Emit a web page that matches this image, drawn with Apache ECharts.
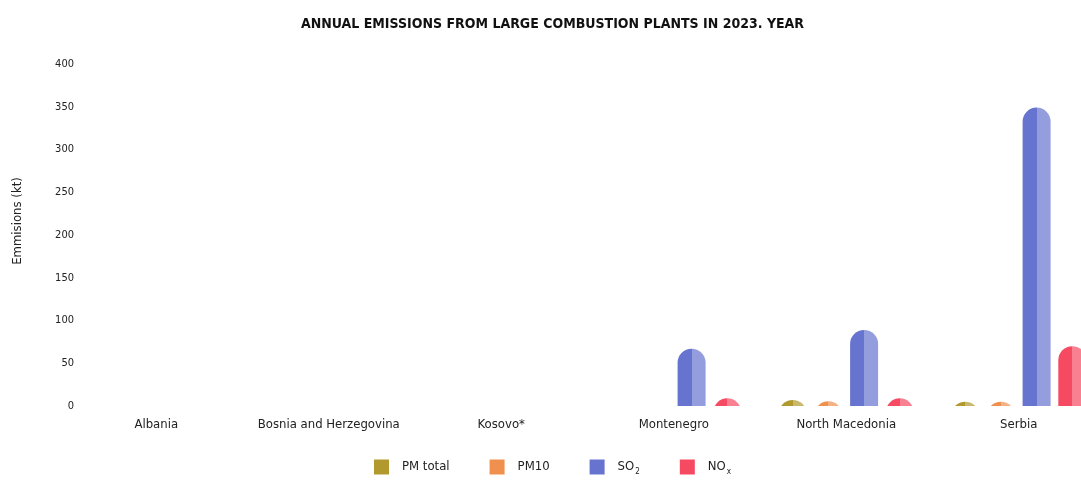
<!DOCTYPE html>
<html>
<head>
<meta charset="utf-8">
<script src="https://cdn.jsdelivr.net/npm/echarts@6/dist/echarts.min.js"></script>
<style>
  html, body { margin: 0; padding: 0; background: #fff; overflow: hidden; }
  /* the original plot runs past the right edge of the window, so the chart is a bit wider */
  #chart { width: 1105px; height: 483px; }
</style>
</head>
<body>
<div id="chart"></div>
<script>
// values (kt)
const categories = ['Albania', 'Bosnia and Herzegovina', 'Kosovo*', 'Montenegro', 'North Macedonia', 'Serbia']
const pmTotal = [null, null, null, 0, 7, 5]
const pm10 = [null, null, null, 0, 5.5, 5]
const so2 = [null, null, null, 67, 89, 349]
const nox = [null, null, null, 9, 9, 70]
const yTicks = { min: 0, max: 400, interval: 50 }

const FONT = "'Liberation Sans Narrow', 'DejaVu Sans Condensed', 'Roboto', sans-serif"

const seriesDefs = [
  { name: 'PM total', data: pmTotal, color: '#b1992e', light: 'rgba(177,153,46,0.7)' },
  { name: 'PM10', data: pm10, color: '#f0904e', light: 'rgba(240,144,78,0.7)' },
  { name: 'SO2', data: so2, color: '#6674cf', light: 'rgba(102,116,207,0.7)' },
  { name: 'NOx', data: nox, color: '#f64a62', light: 'rgba(246,74,98,0.7)' }
]

const BAR_W = 28
const BAR_GAP = 7.7

function makeRender(idx, def) {
  return function (params, api) {
    const v = api.value(1)
    if (v == null || isNaN(v) || v <= 0) {
      return
    }
    const cat = api.value(0)
    const n = seriesDefs.length
    const groupW = n * BAR_W + (n - 1) * BAR_GAP
    const base = api.coord([cat, 0])
    const top = api.coord([cat, v])
    const r = BAR_W / 2
    // capsule top, bottom part runs under the axis and gets clipped
    return {
      type: 'rect',
      shape: {
        x: base[0] - groupW / 2 + idx * (BAR_W + BAR_GAP),
        y: top[1],
        width: BAR_W,
        height: base[1] - top[1] + r,
        r: [r, r, 0, 0]
      },
      style: {
        fill: new echarts.graphic.LinearGradient(0, 0, 1, 0, [
          { offset: 0, color: def.color },
          { offset: 0.5, color: def.color },
          { offset: 0.5, color: def.light },
          { offset: 1, color: def.light }
        ])
      }
    }
  }
}

const chart = echarts.init(document.getElementById('chart'))

chart.setOption({
  backgroundColor: '#ffffff',
  textStyle: { fontFamily: FONT },
  title: {
    text: 'ANNUAL EMISSIONS FROM LARGE COMBUSTION PLANTS IN 2023. YEAR',
    left: 'center',
    top: 12,
    textStyle: {
      fontFamily: FONT,
      fontWeight: 'bold',
      fontSize: 14,
      color: '#111'
    }
  },
  legend: {
    bottom: 2,
    left: 'center',
    icon: 'rect',
    itemWidth: 15,
    itemHeight: 15,
    itemGap: 40,
    data: seriesDefs.map(d => d.name),
    formatter: function (name) {
      if (name === 'SO2') return '{t|SO}{s|2}'
      if (name === 'NOx') return '{t|NO}{s|x}'
      return '{t|' + name + '}'
    },
    textStyle: {
      fontFamily: FONT,
      fontSize: 13,
      color: '#222',
      padding: [0, 0, 0, 8],
      rich: {
        t: { fontFamily: FONT, fontSize: 13, color: '#222' },
        s: { fontFamily: FONT, fontSize: 8, color: '#222', padding: [10, 0, 0, 1] }
      }
    }
  },
  grid: {
    left: 70,
    right: 0,
    top: 64,
    bottom: 77,
    containLabel: false
  },
  xAxis: {
    type: 'category',
    data: categories,
    axisLine: { show: false },
    axisTick: { show: false },
    axisLabel: {
      interval: 0,
      margin: 12,
      fontFamily: FONT,
      fontSize: 13,
      color: '#222'
    }
  },
  yAxis: {
    type: 'value',
    min: yTicks.min,
    max: yTicks.max,
    interval: yTicks.interval,
    name: 'Emmisions (kt)',
    nameLocation: 'middle',
    nameGap: 46,
    nameTextStyle: {
      fontFamily: FONT,
      fontSize: 13,
      color: '#222',
      padding: [0, 0, 0, 28]
    },
    axisLine: { show: false },
    axisTick: { show: false },
    splitLine: { show: false },
    axisLabel: {
      margin: -4,
      fontFamily: FONT,
      fontSize: 11,
      color: '#222'
    }
  },
  series: seriesDefs.map((d, i) => ({
    name: d.name,
    type: 'custom',
    clip: true,
    itemStyle: { color: d.color },
    encode: { x: 0, y: 1 },
    renderItem: makeRender(i, d),
    data: d.data.map((v, j) => [j, v])
  }))
})
</script>
</body>
</html>
